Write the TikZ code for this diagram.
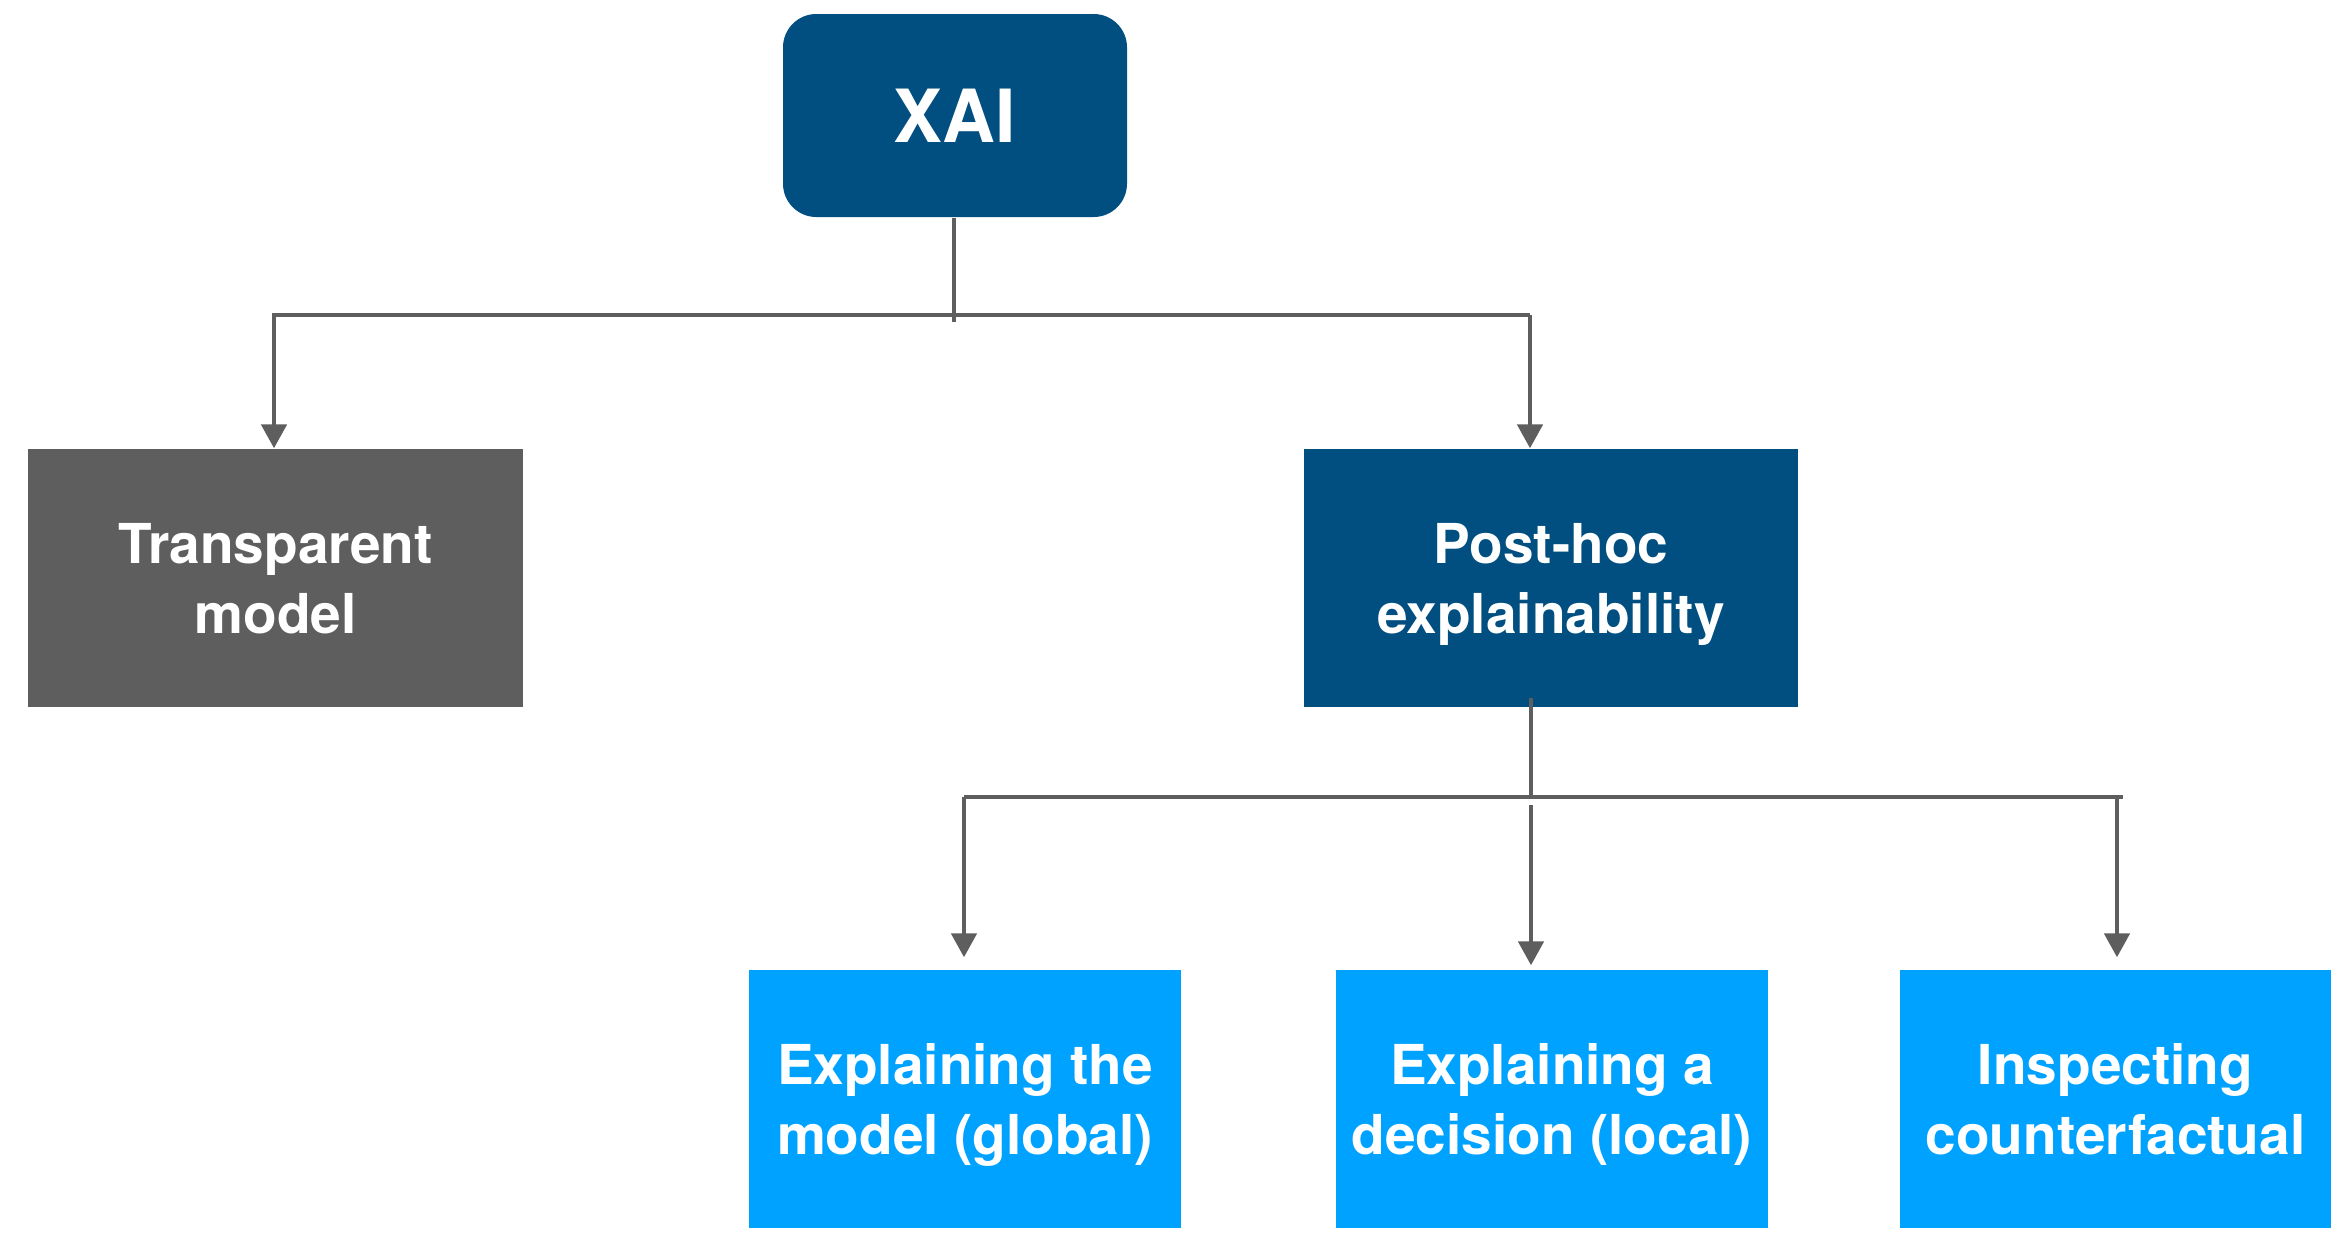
\documentclass[tikz,border=0pt]{standalone}
\usepackage{fontspec}
\setmainfont{TeX Gyre Heros}
\usetikzlibrary{arrows.meta}
\definecolor{darkblue}{RGB}{0,79,128}
\definecolor{boxgray}{RGB}{94,94,94}
\definecolor{lightblue}{RGB}{0,162,255}
\definecolor{linegray}{RGB}{94,94,94}
\tikzset{
  box/.style={draw=none, text=white, font=\fontsize{16.5}{21}\selectfont\bfseries, align=center, inner sep=0pt, text depth=0pt, minimum height=77.4pt},
  conn/.style={draw=linegray, line width=1.4pt},
  arr/.style={conn, -{Triangle[width=7.5pt,length=7.2pt]}},
}
\begin{document}
\begin{tikzpicture}[x=0.3pt,y=-0.3pt]
\useasboundingbox[fill=white] (0,0) rectangle (2348,1246);
% nodes
\node[box, fill=darkblue, rounded corners=10pt, minimum width=103.2pt, minimum height=60.9pt, font=\fontsize{22}{26}\selectfont\bfseries] (xai) at (955,115.5) {XAI};
\node[box, fill=boxgray, minimum width=148.5pt] (tm) at (275.5,578) {Transparent\\model};
\node[box, fill=darkblue, minimum width=148.2pt] (ph) at (1551,578) {Post-hoc\\explainability};
\node[box, fill=lightblue, minimum width=129.6pt] (b1) at (965,1099) {Explaining the\\model (global)};
\node[box, fill=lightblue, minimum width=129.6pt] (b2) at (1552,1099) {Explaining a\\decision (local)};
\node[box, fill=lightblue, minimum width=129.3pt] (b3) at (2115.5,1099) {Inspecting\\counterfactual};
% junction coordinates
\coordinate (stemA) at (954,322);
\coordinate (busAL) at (274,315);
\coordinate (busAR) at (1530,315);
\coordinate (stemB) at (1531,797);
\coordinate (busBL) at (964,797);
\coordinate (busBR) at (2117,797);
\coordinate (busBend) at (2123,797);
\coordinate (midB) at (1531,805);
% level 1
\draw[conn] (xai.south -| stemA) -- (stemA);
\draw[arr] (busAR) -- (busAL) -- (tm.north -| busAL);
\draw[arr] (busAR) -- (ph.north -| busAR);
% level 2
\draw[conn] ([yshift=3pt]ph.south -| stemB) -- (stemB);
\draw[conn] (busBend) -- (busBL);
\draw[arr, shorten >=3.6pt] (busBL) -- (b1.north -| busBL);
\draw[arr, shorten >=1.2pt] (midB) -- (b2.north -| midB);
\draw[arr, shorten >=3.6pt] (busBR) -- (b3.north -| busBR);
\end{tikzpicture}
\end{document}
